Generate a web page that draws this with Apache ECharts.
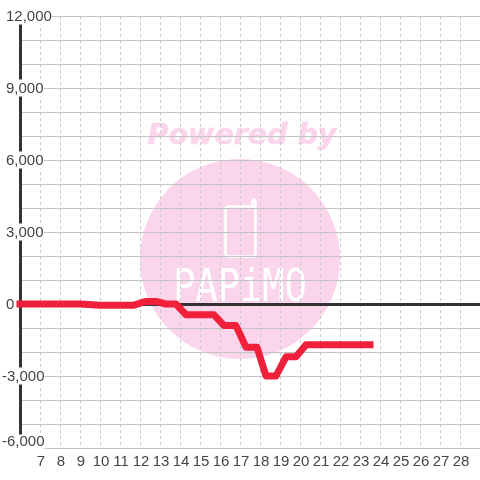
<!DOCTYPE html>
<html>
<head>
<meta charset="utf-8">
<style>
html, body { margin: 0; padding: 0; background: #fff; }
#chart { width: 480px; height: 480px; }
</style>
<script src="https://cdn.jsdelivr.net/npm/echarts@6/dist/echarts.min.js"></script>
</head>
<body>
<div id="chart"></div>
<script>
var hours = [6, 9, 10, 11.7, 12.25, 12.85, 13.3, 13.8, 14.3, 15.7, 16.2, 16.8, 17.3, 17.85, 18.3, 18.8, 19.3, 19.8, 20.3, 23.5];
var values = [0, 0, -50, -50, 100, 100, 0, 0, -450, -450, -900, -900, -1800, -1800, -3000, -3000, -2200, -2200, -1700, -1700];
var yLabels = [-6000, -3000, 0, 3000, 6000, 9000, 12000];
var xLabels = [7, 8, 9, 10, 11, 12, 13, 14, 15, 16, 17, 18, 19, 20, 21, 22, 23, 24, 25, 26, 27, 28];

var myChart = echarts.init(document.getElementById('chart'));
var labelFont = 'Liberation Sans';

var option = {
    animation: false,
    backgroundColor: '#fff',
    grid: { left: 20, right: 0, top: 16, bottom: 32, outerBoundsMode: 'none' },
    graphic: [
        // watermark
        { type: 'circle', z: -5, shape: { cx: 240, cy: 259, r: 100 }, style: { fill: '#fbd5ec' } },
        { type: 'text', z: -5, x: 242, y: 136.5, style: {
            text: 'Powered by', fill: '#fbd5ec', stroke: '#fbd5ec', lineWidth: 0.6, align: 'center', verticalAlign: 'middle',
            font: 'italic bold 28.5px "DejaVu Sans"'
        } },
        { type: 'rect', z: -4, shape: { x: 225.5, y: 206.5, width: 30, height: 50, r: 3 },
          style: { fill: 'none', stroke: '#fff', lineWidth: 2.5 } },
        { type: 'polyline', z: -4, shape: { points: [[252.5, 207], [252.5, 201], [254, 199.5], [255.5, 201], [255.5, 207]] },
          style: { fill: 'none', stroke: '#fff', lineWidth: 2.5 } },
        { type: 'text', z: -4, x: 240, y: 289.5, scaleY: 1.22, style: {
            text: 'PAPiMO', fill: '#fff', align: 'center', verticalAlign: 'middle',
            font: '37px "DejaVu Sans Mono"'
        } }
    ],
    xAxis: [
        {
            type: 'value',
            position: 'bottom',
            min: 6,
            max: 29,
            interval: 1,
            axisLine: { show: false, onZero: false },
            axisTick: { show: false },
            axisLabel: {
                margin: 6,
                color: '#444',
                fontFamily: labelFont,
                fontSize: 15,
                padding: [0, 0, 0, 2],
                showMinLabel: true,
                showMaxLabel: true,
                formatter: function (v) {
                    return xLabels.indexOf(v) >= 0 ? String(v) : '';
                }
            },
            splitLine: { show: true, lineStyle: { color: '#c8c8c8', width: 1, type: [3, 3] } }
        },
        {
            type: 'value',
            position: 'top',
            min: 6,
            max: 29,
            axisLine: { show: true, onZero: true, lineStyle: { color: '#333', width: 3 } },
            axisTick: { show: false },
            axisLabel: { show: false },
            splitLine: { show: false }
        }
    ],
    yAxis: {
        type: 'value',
        min: -6000,
        max: 12000,
        interval: 1000,
        axisLine: { show: true, onZero: false, lineStyle: { color: '#333', width: 3 } },
        axisTick: { show: false },
        axisLabel: {
            margin: 18,
            align: 'left',
            color: '#444',
            fontFamily: labelFont,
            fontSize: 15,
            formatter: function (v) {
                if (yLabels.indexOf(v) < 0) return '';
                var s = v.toLocaleString('en-US');
                if (v === yLabels[0]) return '{low|' + s + '}';    // sits above its line
                return v < 0 ? '{neg|' + s + '}' : '{pos|' + s + '}';
            },
            rich: {
                low: { backgroundColor: '#fff', color: '#444', fontFamily: labelFont, fontSize: 15, padding: [0, 0, 12, 0] },
                neg: { backgroundColor: '#fff', color: '#444', fontFamily: labelFont, fontSize: 15, padding: [2, 0, 0, 0] },
                pos: { backgroundColor: '#fff', color: '#444', fontFamily: labelFont, fontSize: 15, padding: [2, 0, 0, 4] }
            }
        },
        splitLine: { show: true, lineStyle: { color: '#c4c4c4', width: 1 } }
    },
    series: [
        {
            type: 'line',
            xAxisIndex: 0,
            clip: false,
            z: 5,
            symbol: 'none',
            data: hours.map(function (h, i) { return [h, values[i]]; }),
            lineStyle: { color: '#f0203a', width: 7, cap: 'square', join: 'round' }
        }
    ]
};

myChart.setOption(option);
</script>
</body>
</html>
